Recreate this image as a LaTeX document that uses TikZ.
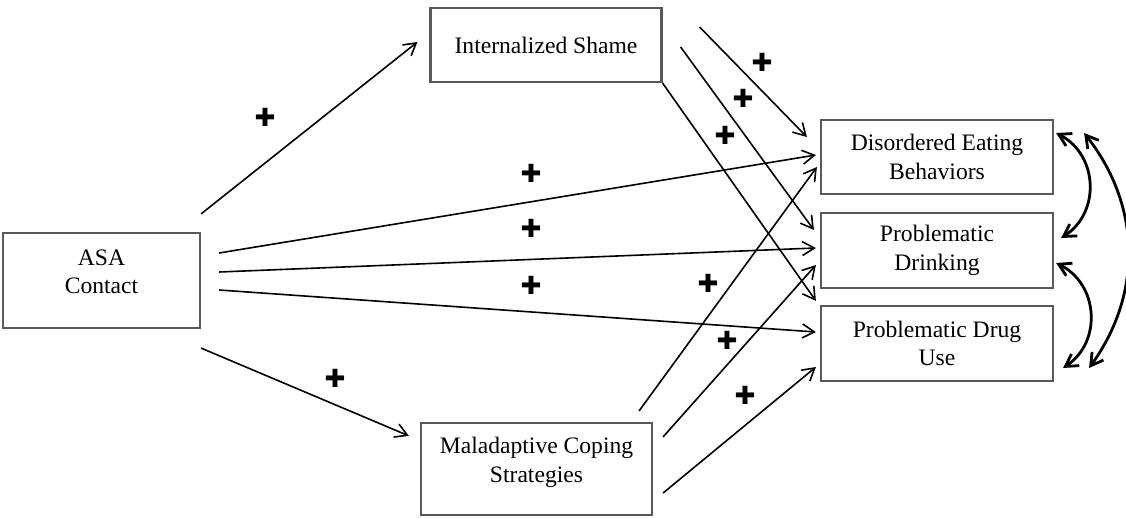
\documentclass[tikz,border=0pt]{standalone}
\usepackage{fontspec}
\setmainfont{Liberation Serif}
\newfontfamily\crossfont{DejaVu Sans}
\usetikzlibrary{arrows.meta}
\tikzset{> = {Straight Barb[length=6pt, width=7pt]}}
\tikzset{box/.style = {draw=black!65, line width=1.1pt, align=center, inner sep=0pt, font=\fontsize{11.8}{14.2}\selectfont}}
\tikzset{plus/.style = {font=\crossfont\fontsize{12.5}{12.5}\selectfont, inner sep=0pt}}

\begin{document}
\begin{tikzpicture}[x=0.5pt, y=-0.5pt]
\useasboundingbox (0,0) rectangle (1126,518);
% nodes
\node[box, minimum width=98.5pt, minimum height=47.5pt, text depth=9pt] (asa) at (101.5,280.5) {ASA\\Contact}; % source, left
\node[box, minimum width=115.5pt, minimum height=37pt] (shame) at (546,45) {Internalized Shame};
\node[box, minimum width=115.5pt, minimum height=46pt, text depth=9pt] (cope) at (536.5,469) {Maladaptive Coping\\Strategies};
\node[box, minimum width=116pt, minimum height=37pt] (eat) at (937,157) {Disordered Eating\\Behaviors};
\node[box, minimum width=116pt, minimum height=37.5pt] (drink) at (937,250.5) {Problematic\\Drinking};
\node[box, minimum width=116pt, minimum height=37.5pt] (drug) at (937,343.5) {Problematic Drug\\Use};
% plus signs
\node[plus] (p1) at (265,117) {✚};
\node[plus] (p2) at (335,378) {✚};
\node[plus] (p3) at (531,173) {✚};
\node[plus] (p4) at (531,228) {✚};
\node[plus] (p5) at (531,285) {✚};
\node[plus] (p6) at (762,62) {✚};
\node[plus] (p7) at (743,98) {✚};
\node[plus] (p8) at (725,135) {✚};
\node[plus] (p9) at (708,283) {✚};
\node[plus] (p10) at (727,340) {✚};
\node[plus] (p11) at (745,395) {✚};
% edges
\path[->, line width=0.8pt]
([shift={(0,-18)}]asa.north east) edge ([shift={(-12,-3)}]shame.west)
([shift={(0,19)}]asa.south east) edge ([shift={(-11,14)}]cope.north west)
([shift={(18,-27.5)}]asa.east) edge ([shift={(-4,-2)}]eat.west)
([shift={(18,-8.5)}]asa.east) edge ([shift={(-4,-2.5)}]drink.west)
([shift={(18,9.5)}]asa.east) edge ([shift={(-4,-11.5)}]drug.west)
([shift={(37,-18)}]shame.east) edge ([shift={(-13,-20)}]eat.west)
([shift={(18,2)}]shame.east) edge ([shift={(-6,-20.5)}]drink.west)
(shame.south east) edge ([shift={(-4,-4)}]drug.north west)
([shift={(-14,-11)}]cope.north east) edge ([shift={(-3,10)}]eat.west)
([shift={(10,15)}]cope.north east) edge ([shift={(-4,14.5)}]drink.west)
([shift={(10,24)}]cope.east) edge ([shift={(-4,23.5)}]drug.west);
% correlations
\path[<->, line width=1.4pt]
([shift={(2,-24)}]eat.east) edge [bend left=60, looseness=1.15] ([shift={(7,-12.5)}]drink.east)
([shift={(2,12.5)}]drink.east) edge [bend left=60, looseness=1.15] ([shift={(9,24.5)}]drug.east)
([shift={(30,-24)}]eat.east) edge [bend left=37] ([shift={(35,24.5)}]drug.east);
\end{tikzpicture}
\end{document}
